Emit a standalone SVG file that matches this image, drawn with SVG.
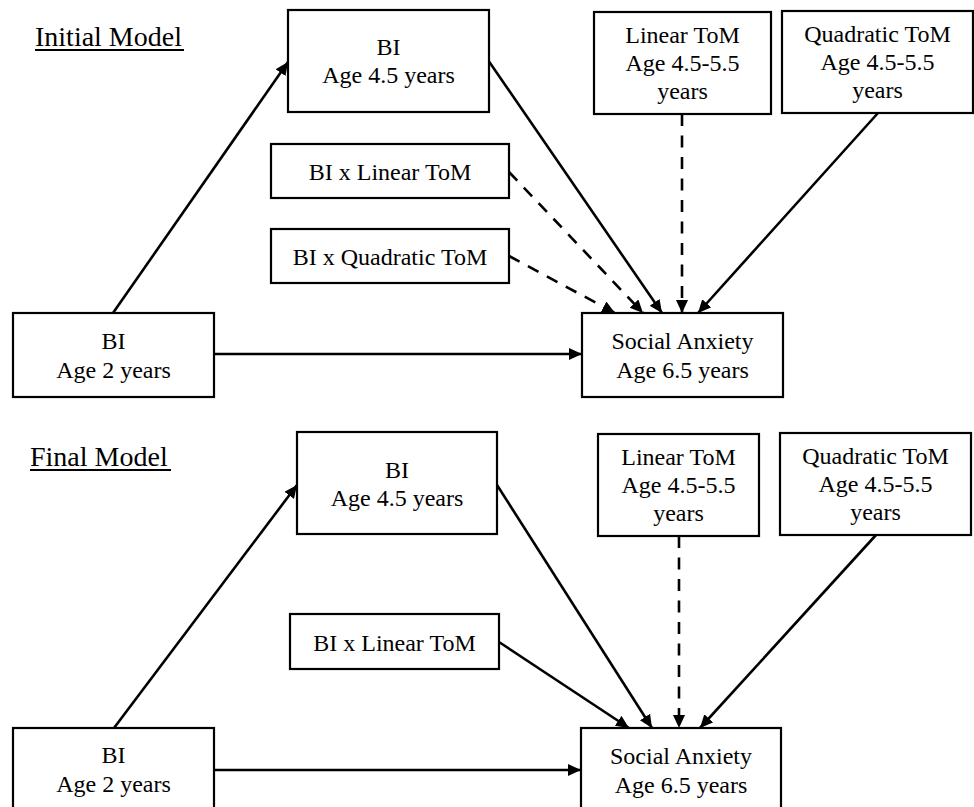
<svg xmlns="http://www.w3.org/2000/svg" width="974" height="807" viewBox="0 0 974 807">
<defs>
<style>
.box{fill:#fff;stroke:#000;stroke-width:2.2}
.t{font-family:"Liberation Serif","Times New Roman",serif;font-size:24px;fill:#000;text-anchor:middle}
.title{font-family:"Liberation Serif","Times New Roman",serif;font-size:28px;fill:#000}
.ul{stroke:#000;stroke-width:1.8}
.c{stroke:#000;stroke-width:2.6;fill:none;marker-end:url(#ah)}
.d{stroke-dasharray:12 9.5}
</style>
<marker id="ah" markerUnits="userSpaceOnUse" markerWidth="16" markerHeight="14" refX="13" refY="6" orient="auto">
<path d="M0,0 L13,6 L0,12 z" fill="#000"/>
</marker>
</defs>
<rect width="974" height="807" fill="#fff"/>

<g id="titles">
<text class="title" x="35" y="46">Initial Model</text>
<line class="ul" x1="35" y1="50" x2="184" y2="50"/>
<text class="title" x="30" y="466">Final Model</text>
<line class="ul" x1="30" y1="470" x2="171" y2="470"/>
</g>

<g id="connectors">
<path class="c" d="M113,313 L288,62"/>
<path class="c" d="M488,60 L662,313"/>
<path class="c d" d="M509,172 L643,313"/>
<path class="c d" d="M509,256 L615,313"/>
<path class="c d" d="M682,114 L682,313"/>
<path class="c" d="M878,113 L698,313"/>
<path class="c" d="M214,354 L582,354"/>

<path class="c" d="M114,728 L297,485"/>
<path class="c" d="M497,485 L652,728"/>
<path class="c" d="M499,642 L629,728"/>
<path class="c d" d="M679,536 L679,728"/>
<path class="c" d="M876,535 L700,728"/>
<path class="c" d="M214,770 L581,770"/>
</g>

<g id="n_bi45_top">
<rect class="box" x="288" y="10" width="201" height="102"/>
<text class="t" x="388.5" y="55">BI</text>
<text class="t" x="388.5" y="83">Age 4.5 years</text>
</g>
<g id="n_bilin_top">
<rect class="box" x="271" y="144" width="238" height="54"/>
<text class="t" x="390" y="180">BI x Linear ToM</text>
</g>
<g id="n_biquad_top">
<rect class="box" x="271" y="229" width="238" height="54"/>
<text class="t" x="390" y="265">BI x Quadratic ToM</text>
</g>
<g id="n_bi2_top">
<rect class="box" x="13" y="313" width="201" height="84"/>
<text class="t" x="113.5" y="349">BI</text>
<text class="t" x="113.5" y="378">Age 2 years</text>
</g>
<g id="n_lin_top">
<rect class="box" x="594" y="12" width="177" height="102"/>
<text class="t" x="682.5" y="43">Linear ToM</text>
<text class="t" x="682.5" y="71">Age 4.5-5.5</text>
<text class="t" x="682.5" y="99">years</text>
</g>
<g id="n_quad_top">
<rect class="box" x="782" y="11" width="191" height="102"/>
<text class="t" x="877.5" y="42">Quadratic ToM</text>
<text class="t" x="877.5" y="70">Age 4.5-5.5</text>
<text class="t" x="877.5" y="98">years</text>
</g>
<g id="n_sa_top">
<rect class="box" x="582" y="313" width="201" height="84"/>
<text class="t" x="682.5" y="349">Social Anxiety</text>
<text class="t" x="682.5" y="378">Age 6.5 years</text>
</g>

<g id="n_bi45_bot">
<rect class="box" x="297" y="432" width="200" height="102"/>
<text class="t" x="397" y="478">BI</text>
<text class="t" x="397" y="506">Age 4.5 years</text>
</g>
<g id="n_bilin_bot">
<rect class="box" x="290" y="614" width="209" height="55"/>
<text class="t" x="394.5" y="651">BI x Linear ToM</text>
</g>
<g id="n_bi2_bot">
<rect class="box" x="13" y="728" width="201" height="84"/>
<text class="t" x="113.5" y="763">BI</text>
<text class="t" x="113.5" y="792">Age 2 years</text>
</g>
<g id="n_lin_bot">
<rect class="box" x="598" y="434" width="161" height="102"/>
<text class="t" x="678.5" y="465">Linear ToM</text>
<text class="t" x="678.5" y="493">Age 4.5-5.5</text>
<text class="t" x="678.5" y="521">years</text>
</g>
<g id="n_quad_bot">
<rect class="box" x="780" y="433" width="191" height="102"/>
<text class="t" x="875.5" y="464">Quadratic ToM</text>
<text class="t" x="875.5" y="492">Age 4.5-5.5</text>
<text class="t" x="875.5" y="520">years</text>
</g>
<g id="n_sa_bot">
<rect class="box" x="581" y="728" width="200" height="84"/>
<text class="t" x="681" y="764">Social Anxiety</text>
<text class="t" x="681" y="793">Age 6.5 years</text>
</g>
</svg>
